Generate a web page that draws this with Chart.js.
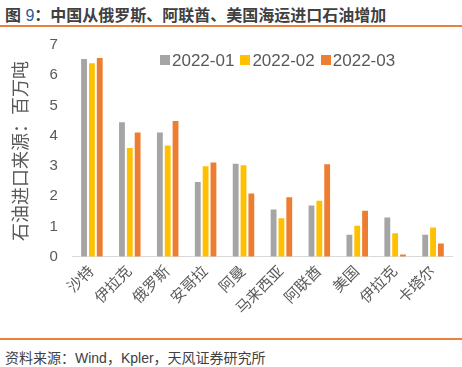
<!DOCTYPE html>
<html>
<head>
<meta charset="utf-8">
<script src="https://cdn.jsdelivr.net/npm/chart.js@4"></script>
<style>
  body { margin: 0; width: 462px; height: 367px; background: #fff; position: relative; overflow: hidden;
         font-family: "Liberation Sans", "Noto Sans CJK SC", sans-serif; }
  #title { position: absolute; left: 5px; top: 2px; font-size: 16px; font-weight: bold; color: #404040; }
  #title span { color: #2e5b94; font-weight: normal; }
  .rule { position: absolute; left: 0; width: 462px; height: 2px; background: #e8823a; }
  #source { position: absolute; left: 5px; top: 347px; font-size: 14px; color: #404040; }
  #box { position: absolute; left: 0; top: 21px; width: 462px; height: 303px; }
  #legend { position: absolute; left: 160px; top: 51px; font-size: 17px; color: #595959; white-space: nowrap; }
  #legend .item { display: inline-block; margin-right: 6px; }
  #legend .sw { display: inline-block; width: 10px; height: 10px; margin-right: 2px; vertical-align: 1px; }
</style>
</head>
<body>
<div id="title">图 <span>9</span>：中国从俄罗斯、阿联酋、美国海运进口石油增加</div>
<div id="box"><canvas id="myChart"></canvas></div>
<div class="rule" style="top:25px"></div>
<div id="legend"></div>
<div class="rule" style="top:338px"></div>
<div id="source">资料来源：Wind，Kpler，天风证券研究所</div>
<script>
const countries = ["沙特", "伊拉克", "俄罗斯", "安哥拉", "阿曼", "马来西亚", "阿联酋", "美国", "伊拉克", "卡塔尔"];
const seriesNames = ["2022-01", "2022-02", "2022-03"];
const jan = [6.57, 4.48, 4.14, 2.51, 3.11, 1.60, 1.73, 0.76, 1.33, 0.76];
const feb = [6.43, 3.63, 3.71, 3.03, 3.06, 1.31, 1.89, 1.06, 0.81, 1.00];
const mar = [6.60, 4.14, 4.52, 3.15, 2.13, 2.00, 3.09, 1.56, 0.11, 0.47];
const barColors = ["#a5a5a5", "#ffc000", "#ed7d31"];
const fontFamily = '"Liberation Sans", "Noto Sans CJK SC", sans-serif';

const values = [jan, feb, mar];

// legend drawn in html so it can sit inside the plot area
const legendEl = document.getElementById('legend');
seriesNames.forEach((name, i) => {
  const item = document.createElement('span');
  item.className = 'item';
  item.innerHTML = '<span class="sw" style="background:' + barColors[i] + '"></span>' + name;
  legendEl.appendChild(item);
});

new Chart('myChart', {
  type: 'bar',
  data: {
    labels: countries,
    datasets: seriesNames.map((name, i) => ({
      label: name,
      data: values[i],
      backgroundColor: barColors[i],
      borderColor: '#ffffff',
      borderWidth: 1,
      barPercentage: 1,
      categoryPercentage: 0.62
    }))
  },
  options: {
    responsive: true,
    maintainAspectRatio: false,
    animation: false,
    layout: { padding: { top: 0, right: 10, left: 9, bottom: 0 } },
    plugins: {
      legend: { display: false },
      tooltip: { enabled: false }
    },
    scales: {
      x: {
        grid: { display: false, drawTicks: false },
        border: { color: '#d9d9d9', width: 1 },
        ticks: {
          maxRotation: 45,
          minRotation: 45,
          color: '#595959',
          padding: 6,
          font: { size: 15, family: fontFamily }
        }
      },
      y: {
        min: 0,
        max: 7,
        grid: { display: false, drawTicks: false },
        border: { display: false },
        ticks: {
          stepSize: 1,
          color: '#595959',
          padding: 15,
          font: { size: 15, family: fontFamily }
        },
        title: {
          display: true,
          text: '石油进口来源：百万吨',
          color: '#595959',
          padding: 2,
          font: { size: 18, family: fontFamily }
        }
      }
    }
  }
});
</script>
</body>
</html>
